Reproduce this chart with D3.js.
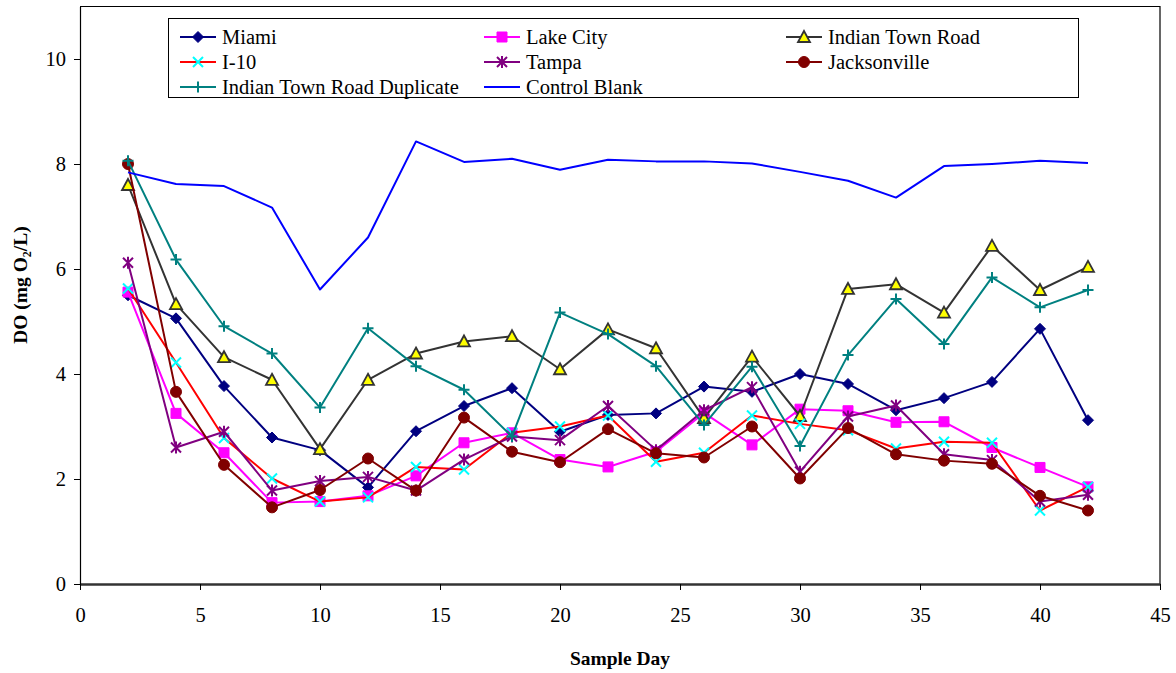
<!DOCTYPE html>
<html>
<head>
<meta charset="utf-8">
<script src="https://cdn.jsdelivr.net/npm/d3@7"></script>
<style>
  html, body { margin: 0; padding: 0; background: #fff; }
  svg { display: block; }
</style>
</head>
<body>
<svg id="chart" width="1176" height="673"></svg>
<script>
// Sampling days and dissolved-oxygen readings (mg O2/L) per site
const days = [2, 4, 6, 8, 10, 12, 14, 16, 18, 20, 22, 24, 26, 28, 30, 32, 34, 36, 38, 40, 42];

const miami          = [5.50, 5.06, 3.77, 2.79, 2.55, 1.84, 2.91, 3.39, 3.73, 2.90, 3.22, 3.25, 3.76, 3.66, 4.00, 3.81, 3.31, 3.54, 3.85, 4.86, 3.12];
const lakeCity       = [5.56, 3.25, 2.50, 1.55, 1.57, 1.68, 2.06, 2.69, 2.88, 2.37, 2.23, 2.52, 3.26, 2.65, 3.33, 3.30, 3.08, 3.09, 2.60, 2.22, 1.85];
const indianTownRoad = [7.60, 5.33, 4.32, 3.89, 2.57, 3.89, 4.39, 4.62, 4.72, 4.09, 4.85, 4.49, 3.16, 4.33, 3.20, 5.62, 5.71, 5.17, 6.44, 5.60, 6.04];
const i10            = [5.63, 4.22, 2.78, 2.01, 1.57, 1.65, 2.23, 2.18, 2.88, 3.00, 3.21, 2.33, 2.50, 3.21, 3.05, 2.93, 2.58, 2.71, 2.69, 1.40, 1.85];
const tampa          = [6.12, 2.60, 2.90, 1.78, 1.96, 2.04, 1.78, 2.37, 2.81, 2.74, 3.39, 2.55, 3.31, 3.75, 2.14, 3.19, 3.40, 2.47, 2.36, 1.57, 1.70];
const jacksonville   = [8.00, 3.66, 2.27, 1.46, 1.79, 2.39, 1.78, 3.17, 2.52, 2.32, 2.95, 2.49, 2.41, 3.00, 2.01, 2.97, 2.47, 2.35, 2.29, 1.68, 1.40];
const itrDuplicate   = [8.06, 6.18, 4.91, 4.39, 3.36, 4.87, 4.15, 3.70, 2.81, 5.17, 4.76, 4.15, 3.03, 4.14, 2.63, 4.36, 5.43, 4.57, 5.84, 5.27, 5.60];
const controlBlank   = [7.84, 7.62, 7.58, 7.17, 5.61, 6.60, 8.43, 8.04, 8.10, 7.89, 8.08, 8.05, 8.05, 8.01, 7.85, 7.68, 7.36, 7.96, 8.00, 8.06, 8.02];

const xTicks = [0, 5, 10, 15, 20, 25, 30, 35, 40, 45];
const yTicks = [0, 2, 4, 6, 8, 10];

const seriesNames = ["Miami", "Lake City", "Indian Town Road", "I-10", "Tampa", "Jacksonville",
                     "Indian Town Road Duplicate", "Control Blank"];

const FONT = "Liberation Serif";
const FONT_SIZE = "20.5px";

// Style per series: line colour, marker shape, marker fill/stroke
const styles = {
  "Miami":                      { line: "#000080", marker: "diamond",  fill: "#000080", stroke: "#000080" },
  "Lake City":                  { line: "#FF00FF", marker: "square",   fill: "#FF00FF", stroke: "#FF00FF" },
  "Indian Town Road":           { line: "#333333", marker: "triangle", fill: "#FFFF00", stroke: "#333333" },
  "I-10":                       { line: "#FF0000", marker: "x",        fill: "none",    stroke: "#00FFFF" },
  "Tampa":                      { line: "#800080", marker: "star",     fill: "none",    stroke: "#800080" },
  "Jacksonville":               { line: "#800000", marker: "circle",   fill: "#800000", stroke: "#800000" },
  "Indian Town Road Duplicate": { line: "#008080", marker: "plus",     fill: "none",    stroke: "#008080" },
  "Control Blank":              { line: "#0000FF", marker: null }
};

const seriesValues = [miami, lakeCity, indianTownRoad, i10, tampa, jacksonville, itrDuplicate, controlBlank];
const series = seriesNames.map((name, i) => ({
  name,
  points: days.map((d, j) => ({ day: d, value: seriesValues[i][j] }))
}));

const svg = d3.select("#chart");
const margin = { left: 80, right: 1160, top: 6.5, bottom: 584 };

const x = d3.scaleLinear().domain([0, 45]).range([margin.left, margin.right]);
const y = d3.scaleLinear().domain([0, 11]).range([margin.bottom, margin.top]);

// Marker path generators, centred on the origin
function markerPath(kind, s) {
  const h = s / 2;
  switch (kind) {
    case "diamond":  return `M0,${-h}L${h},0L0,${h}L${-h},0Z`;
    case "square":   return `M${-h},${-h}H${h}V${h}H${-h}Z`;
    case "triangle": return `M0,${-h - 1}L${h + 1},${h}L${-h - 1},${h}Z`;
    case "x":        return `M${-h},${-h}L${h},${h}M${-h},${h}L${h},${-h}`;
    case "plus":     return `M${-h},0H${h}M0,${-h}V${h}`;
    case "star":     return `M${-h},${-h}L${h},${h}M${-h},${h}L${h},${-h}M0,${-h - 1}V${h + 1}`;
    default:         return "";
  }
}
function drawMarker(g, kind, st, cx, cy) {
  if (!kind) return;
  if (kind === "circle") {
    g.append("circle").attr("cx", cx).attr("cy", cy).attr("r", 5.5)
      .attr("fill", st.fill).attr("stroke", st.stroke).attr("stroke-width", 1);
    return;
  }
  const sizes = { diamond: 11, square: 10, triangle: 10, x: 10, plus: 11, star: 10 };
  const open = (kind === "x" || kind === "plus" || kind === "star");
  g.append("path")
    .attr("d", markerPath(kind, sizes[kind]))
    .attr("transform", `translate(${cx},${cy})`)
    .attr("fill", open ? "none" : st.fill)
    .attr("stroke", st.stroke)
    .attr("stroke-width", open ? 2 : (kind === "triangle" ? 1.8 : 1));
}

// Plot frame (top and right edges)
svg.append("path")
  .attr("d", `M${margin.left},${margin.top}H${margin.right}V${margin.bottom}`)
  .attr("fill", "none").attr("stroke", "#000").attr("stroke-width", 1.2);

// Axes
const xAxis = d3.axisBottom(x).tickValues(xTicks).tickSizeInner(6).tickSizeOuter(0).tickPadding(17);
const gx = svg.append("g").attr("transform", `translate(0,${margin.bottom})`).call(xAxis);
gx.select(".domain").attr("stroke", "#333").attr("stroke-width", 2.5);
gx.selectAll(".tick line").attr("stroke", "#000");
gx.selectAll("text").attr("fill", "#000")
  .style("font-size", FONT_SIZE).style("font-family", FONT);

const yAxis = d3.axisLeft(y).tickValues(yTicks).tickSizeInner(6).tickSizeOuter(0).tickPadding(8);
const gy = svg.append("g").attr("transform", `translate(${margin.left},0)`).call(yAxis);
gy.select(".domain").attr("stroke", "#000").attr("stroke-width", 1.2);
gy.selectAll(".tick line").attr("stroke", "#000");
gy.selectAll("text").attr("fill", "#000")
  .style("font-size", FONT_SIZE).style("font-family", FONT);

// Axis titles
svg.append("text")
  .attr("x", 620).attr("y", 665)
  .attr("text-anchor", "middle")
  .style("font-size", "19.5px").style("font-weight", "bold").style("font-family", FONT)
  .text("Sample Day");

const yTitle = svg.append("text")
  .attr("transform", `translate(27,285) rotate(-90)`)
  .attr("text-anchor", "middle")
  .style("font-size", "19.5px").style("font-weight", "bold").style("font-family", FONT);
yTitle.append("tspan").text("DO (mg O");
yTitle.append("tspan").style("font-size", "12px").attr("dy", 4).text("2");
yTitle.append("tspan").attr("dy", -4).text("/L)");

// Series lines and markers
const line = d3.line().x(d => x(d.day)).y(d => y(d.value));
series.forEach(s => {
  const st = styles[s.name];
  const g = svg.append("g");
  g.append("path").datum(s.points)
    .attr("d", line).attr("fill", "none")
    .attr("stroke", st.line).attr("stroke-width", 2)
    .attr("stroke-linejoin", "round");
  s.points.forEach(p => drawMarker(g, st.marker, st, x(p.day), y(p.value)));
});

// Legend
const legend = svg.append("g");
legend.append("rect")
  .attr("x", 168.5).attr("y", 18.5).attr("width", 910).attr("height", 79)
  .attr("fill", "#fff").attr("stroke", "#000").attr("stroke-width", 1);

const colX = [180, 484, 786];
const rowY = [37, 62, 87];
seriesNames.forEach((name, i) => {
  const st = styles[name];
  const cx = colX[i % 3], cy = rowY[Math.floor(i / 3)];
  const g = legend.append("g");
  g.append("line").attr("x1", cx).attr("x2", cx + 36).attr("y1", cy).attr("y2", cy)
    .attr("stroke", st.line).attr("stroke-width", 2);
  drawMarker(g, st.marker, st, cx + 18, cy);
  g.append("text").attr("x", cx + 42).attr("y", cy + 7)
    .attr("fill", "#000")
    .style("font-size", FONT_SIZE).style("font-family", FONT)
    .text(name);
});
</script>
</body>
</html>
